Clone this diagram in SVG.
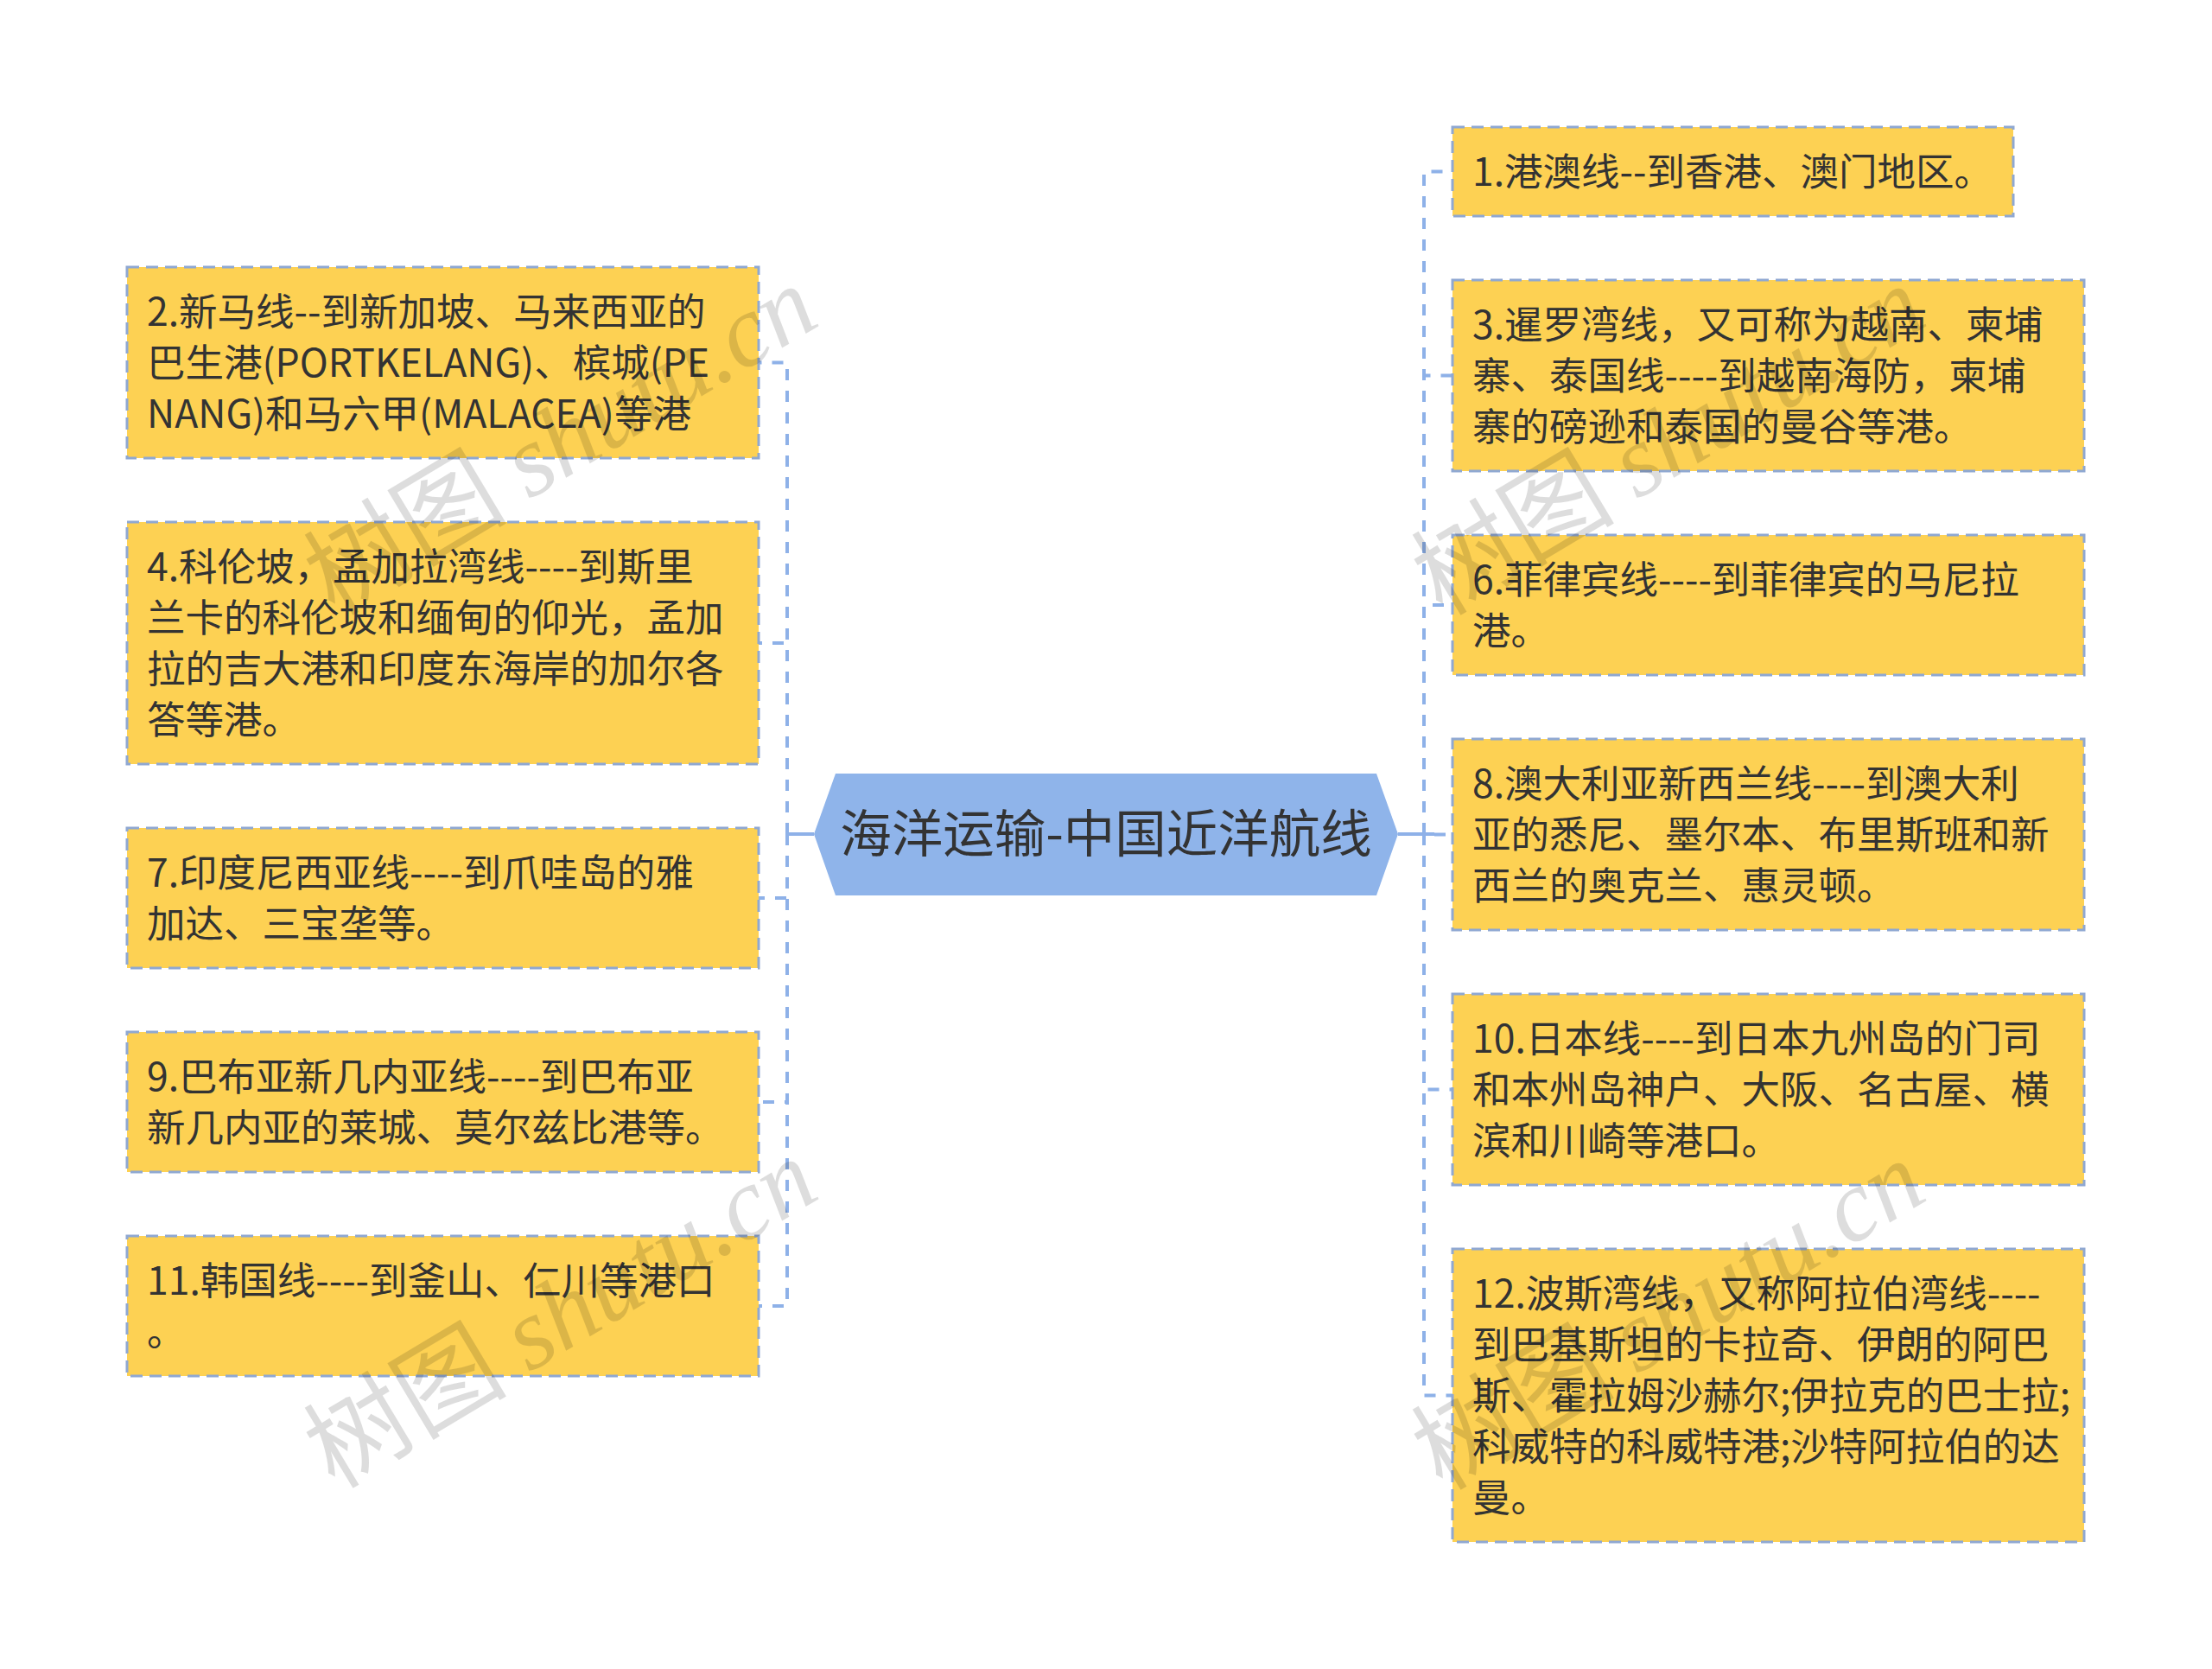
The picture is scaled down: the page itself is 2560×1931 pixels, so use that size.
<svg xmlns="http://www.w3.org/2000/svg" width="2560" height="1931" viewBox="0 0 2560 1931">
<style>
.bg{fill:#ffffff}
.node{fill:#FDD153;stroke:#8FA8D2;stroke-width:3;stroke-dasharray:14 8}
.t{font-family:"Noto Sans CJK SC","Noto Sans",sans-serif;font-size:44.5px;fill:#333333}
.ct{font-family:"Noto Sans CJK SC","Noto Sans",sans-serif;font-size:59.5px;fill:#333333;text-anchor:middle}
.hex{fill:#8FB4EA}
.c{fill:none;stroke:#8EB1E8;stroke-width:4;stroke-dasharray:13 12}
.cs{fill:none;stroke:#8EB1E8;stroke-width:4}
.wm{font-family:"Noto Sans CJK SC",sans-serif;font-size:118px;fill:#000000;opacity:0.13}
.wl{font-family:"Liberation Serif","Noto Sans CJK SC",serif;font-style:italic}
</style>
<rect class="bg" x="0" y="0" width="2560" height="1931"/>
<g id="connectors">
<path class="cs" d="M942 965 H911"/>
<path class="cs" d="M1618 965 H1660"/>
<path class="c" d="M911 965 V419.5 H878"/>
<path class="c" d="M911 965 V744 H878"/>
<path class="c" d="M911 965 V1039 H878"/>
<path class="c" d="M911 965 V1275 H878"/>
<path class="c" d="M911 965 V1511 H878"/>
<path class="c" d="M1648 965 V198.5 H1681"/>
<path class="c" d="M1648 965 V434.5 H1681"/>
<path class="c" d="M1648 965 V700 H1681"/>
<path class="c" d="M1660 965.5 H1681"/>
<path class="c" d="M1648 965 V1260.5 H1681"/>
<path class="c" d="M1648 965 V1614.5 H1681"/>
</g>
<g id="center">
<polygon class="hex" points="942,965 967,895 1593,895 1618,965 1593,1036 967,1036"/>
<text class="ct" x="1280" y="986">海洋运输-中国近洋航线</text>
</g>
<g id="n2">
<rect class="node" x="147" y="309" width="731" height="221"/>
<text class="t"><tspan x="170" y="377">2.新马线--到新加坡、马来西亚的</tspan><tspan x="170" y="436">巴生港(PORTKELANG)、槟城(PE</tspan><tspan x="170" y="495">NANG)和马六甲(MALACEA)等港</tspan></text>
</g>
<g id="n4">
<rect class="node" x="147" y="604" width="731" height="280"/>
<text class="t"><tspan x="170" y="672">4.科伦坡，孟加拉湾线----到斯里</tspan><tspan x="170" y="731">兰卡的科伦坡和缅甸的仰光，孟加</tspan><tspan x="170" y="790">拉的吉大港和印度东海岸的加尔各</tspan><tspan x="170" y="849">答等港。</tspan></text>
</g>
<g id="n7">
<rect class="node" x="147" y="958" width="731" height="162"/>
<text class="t"><tspan x="170" y="1026">7.印度尼西亚线----到爪哇岛的雅</tspan><tspan x="170" y="1085">加达、三宝垄等。</tspan></text>
</g>
<g id="n9">
<rect class="node" x="147" y="1194" width="731" height="162"/>
<text class="t"><tspan x="170" y="1262">9.巴布亚新几内亚线----到巴布亚</tspan><tspan x="170" y="1321">新几内亚的莱城、莫尔兹比港等。</tspan></text>
</g>
<g id="n11">
<rect class="node" x="147" y="1430" width="731" height="162"/>
<text class="t"><tspan x="170" y="1498">11.韩国线----到釜山、仁川等港口</tspan><tspan x="170" y="1557">。</tspan></text>
</g>
<g id="n1">
<rect class="node" x="1681" y="147" width="649" height="103"/>
<text class="t"><tspan x="1704" y="215">1.港澳线--到香港、澳门地区。</tspan></text>
</g>
<g id="n3">
<rect class="node" x="1681" y="324" width="731" height="221"/>
<text class="t"><tspan x="1704" y="392">3.暹罗湾线，又可称为越南、柬埔</tspan><tspan x="1704" y="451">寨、泰国线----到越南海防，柬埔</tspan><tspan x="1704" y="510">寨的磅逊和泰国的曼谷等港。</tspan></text>
</g>
<g id="n6">
<rect class="node" x="1681" y="619" width="731" height="162"/>
<text class="t"><tspan x="1704" y="687">6.菲律宾线----到菲律宾的马尼拉</tspan><tspan x="1704" y="746">港。</tspan></text>
</g>
<g id="n8">
<rect class="node" x="1681" y="855" width="731" height="221"/>
<text class="t"><tspan x="1704" y="923">8.澳大利亚新西兰线----到澳大利</tspan><tspan x="1704" y="982">亚的悉尼、墨尔本、布里斯班和新</tspan><tspan x="1704" y="1041">西兰的奥克兰、惠灵顿。</tspan></text>
</g>
<g id="n10">
<rect class="node" x="1681" y="1150" width="731" height="221"/>
<text class="t"><tspan x="1704" y="1218">10.日本线----到日本九州岛的门司</tspan><tspan x="1704" y="1277">和本州岛神户、大阪、名古屋、横</tspan><tspan x="1704" y="1336">滨和川崎等港口。</tspan></text>
</g>
<g id="n12">
<rect class="node" x="1681" y="1445" width="731" height="339"/>
<text class="t"><tspan x="1704" y="1513">12.波斯湾线，又称阿拉伯湾线----</tspan><tspan x="1704" y="1572">到巴基斯坦的卡拉奇、伊朗的阿巴</tspan><tspan x="1704" y="1631">斯、霍拉姆沙赫尔;伊拉克的巴士拉;</tspan><tspan x="1704" y="1690">科威特的科威特港;沙特阿拉伯的达</tspan><tspan x="1704" y="1749">曼。</tspan></text>
</g>
<g id="watermarks">
<text class="wm" transform="translate(648,508) rotate(-31)" text-anchor="middle" dy="42">树图 <tspan class="wl">shutu.cn</tspan></text>
<text class="wm" transform="translate(1930,508) rotate(-31)" text-anchor="middle" dy="42">树图 <tspan class="wl">shutu.cn</tspan></text>
<text class="wm" transform="translate(648,1518) rotate(-31)" text-anchor="middle" dy="42">树图 <tspan class="wl">shutu.cn</tspan></text>
<text class="wm" transform="translate(1930,1520) rotate(-31)" text-anchor="middle" dy="42">树图 <tspan class="wl">shutu.cn</tspan></text>
</g>
</svg>
